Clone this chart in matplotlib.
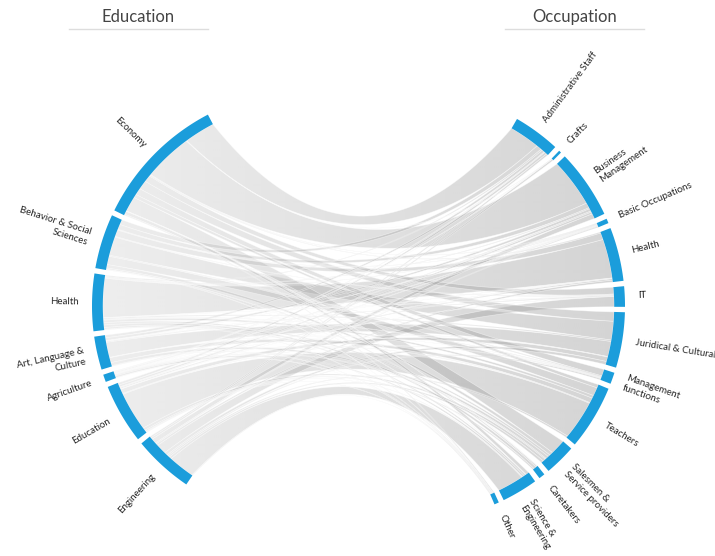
import numpy as np
import matplotlib.pyplot as plt
from matplotlib.patches import Polygon

plt.rcParams['font.family'] = ['Lato', 'DejaVu Sans']

# Education (left half), clockwise from the bottom
education = ["Engineering", "Education", "Agriculture", "Art, Language &\nCulture",
             "Health", "Behavior & Social\nSciences", "Economy"]
# Occupation (right half), clockwise from the top
occupation = ["Administrative Staff", "Crafts", "Business\nManagement", "Basic Occupations",
              "Health", "IT", "Juridical & Cultural", "Management\nfunctions", "Teachers",
              "Salesmen &\nService providers", "Caretakers", "Science &\nEngineering", "Other"]

# respondents per education ending up in each occupation (same order as occupation)
eng_flows = [50, 50, 150, 30, 60, 300, 90, 40, 50, 70, 0, 770, 20]
edu_flows = [70, 0, 60, 20, 40, 10, 140, 20, 1150, 80, 40, 20, 20]
agr_flows = [20, 10, 30, 10, 10, 0, 10, 0, 20, 30, 0, 60, 10]
art_flows = [80, 0, 80, 10, 10, 30, 450, 10, 150, 90, 0, 0, 20]
hlt_flows = [40, 0, 30, 20, 1150, 10, 40, 20, 80, 60, 80, 50, 20]
beh_flows = [150, 0, 150, 20, 200, 20, 550, 30, 250, 100, 40, 10, 10]
eco_flows = [900, 10, 1430, 20, 30, 200, 270, 200, 100, 450, 10, 100, 30]

flows = np.array([eng_flows, edu_flows, agr_flows, art_flows,
                  hlt_flows, beh_flows, eco_flows], dtype=float)

W, H = 715, 556
CX, CY = 358.5, 306.0
R_OUT = 216.0
R_IN = R_OUT * 0.95
PULL = 50.5
PAD = 0.025
EMPTY_PERC = 0.5
ARC_COLOR = '#1b9ddb'
TEXT_COLOR = '#262626'


def point(theta, r, cx):
    return np.array([cx + r * np.sin(theta), CY - r * np.cos(theta)])


def arc_pts(t0, t1, r, cx, n=40):
    t = np.linspace(t0, t1, n)
    return np.column_stack([cx + r * np.sin(t), CY - r * np.cos(t)])


def bezier(p0, p2, n=60):
    c = np.array([CX, CY])
    t = np.linspace(0, 1, n)[:, None]
    return (1 - t) ** 2 * p0 + 2 * (1 - t) * t * c + t ** 2 * p2


def layout(flows):
    occ_tot = flows.sum(axis=0)
    edu_tot = flows.sum(axis=1)
    total = flows.sum()
    empty = total * EMPTY_PERC
    n_groups = len(occupation) + len(education) + 2
    k = (2 * np.pi - PAD * n_groups) / (2 * total + 2 * empty)
    offset = 2 * np.pi * (empty / (total + empty)) / 4

    angle = offset
    occ_span = []
    for v in occ_tot:
        occ_span.append((angle, angle + v * k))
        angle += v * k + PAD
    angle += empty * k + PAD
    edu_span = []
    for v in edu_tot:
        edu_span.append((angle, angle + v * k))
        angle += v * k + PAD

    # subgroups in reversed order so the ribbons do not twist
    occ_sub = {}
    for j in range(len(occupation)):
        s = occ_span[j][0]
        for i in reversed(range(len(education))):
            occ_sub[(i, j)] = (s, s + flows[i, j] * k)
            s += flows[i, j] * k
    edu_sub = {}
    for i in range(len(education)):
        s = edu_span[i][0]
        for j in reversed(range(len(occupation))):
            edu_sub[(i, j)] = (s, s + flows[i, j] * k)
            s += flows[i, j] * k
    return occ_span, edu_span, occ_sub, edu_sub


def main():
    occ_span, edu_span, occ_sub, edu_sub = layout(flows)
    left_cx = CX - PULL
    right_cx = CX + PULL

    fig = plt.figure(figsize=(W / 100, H / 100), dpi=100)
    ax = fig.add_axes([0, 0, 1, 1])
    ax.axis('off')

    # grey gradient, lighter on the education side
    x0, x1 = left_cx - R_IN, right_cx + R_IN
    grad = np.zeros((1, 256, 4))
    grad[..., :3] = 0.6
    grad[0, :, 3] = np.linspace(0.17, 0.42, 256)

    # big ribbons first so the thin ones stay visible on top
    pairs = [(i, j) for i in range(len(education)) for j in range(len(occupation))
             if flows[i, j] > 0]
    pairs.sort(key=lambda p: -flows[p])

    z = 1
    for i, j in pairs:
        a0, a1 = edu_sub[(i, j)]
        b0, b1 = occ_sub[(i, j)]
        pts = np.vstack([
            arc_pts(a0, a1, R_IN, left_cx),
            bezier(point(a1, R_IN, left_cx), point(b0, R_IN, right_cx)),
            arc_pts(b0, b1, R_IN, right_cx),
            bezier(point(b1, R_IN, right_cx), point(a0, R_IN, left_cx)),
        ])
        poly = Polygon(pts, closed=True, facecolor='none', edgecolor='none')
        ax.add_patch(poly)
        im = ax.imshow(grad, extent=(x0, x1, H, 0), aspect='auto',
                       interpolation='bilinear', zorder=z)
        im.set_clip_path(poly)
        ax.add_patch(Polygon(pts, closed=True, fill=False, edgecolor='white',
                             linewidth=0.5, alpha=0.5, zorder=z + 0.5))
        z += 1

    def draw_group(span, cx, name, left):
        t0, t1 = span
        pts = np.vstack([arc_pts(t0, t1, R_OUT, cx), arc_pts(t1, t0, R_IN, cx)])
        ax.add_patch(Polygon(pts, closed=True, facecolor=ARC_COLOR,
                             edgecolor='none', zorder=500))
        mid = (t0 + t1) / 2
        x, y = point(mid, R_OUT + 13, cx)
        deg = np.degrees(mid)
        if left:
            ax.text(x, y, name, rotation=270 - deg, rotation_mode='anchor',
                    ha='right', va='center', multialignment='right',
                    fontsize=7.0, color=TEXT_COLOR, linespacing=1.25)
        else:
            ax.text(x, y, name, rotation=90 - deg, rotation_mode='anchor',
                    ha='left', va='center', multialignment='left',
                    fontsize=7.0, color=TEXT_COLOR, linespacing=1.25)

    for j, name in enumerate(occupation):
        draw_group(occ_span[j], right_cx, name, left=False)
    for i, name in enumerate(education):
        draw_group(edu_span[i], left_cx, name, left=True)

    # titles
    ax.text(138, 17, "Education", ha='center', va='center', fontsize=12, color='#444444')
    ax.plot([69, 208], [29, 29], color='#dddddd', linewidth=1)
    ax.text(575, 17, "Occupation", ha='center', va='center', fontsize=12, color='#444444')
    ax.plot([505, 644], [29, 29], color='#dddddd', linewidth=1)

    ax.set_xlim(0, W)
    ax.set_ylim(H, 0)
    fig.savefig("out.png", dpi=100, facecolor='white')


if __name__ == "__main__":
    main()
